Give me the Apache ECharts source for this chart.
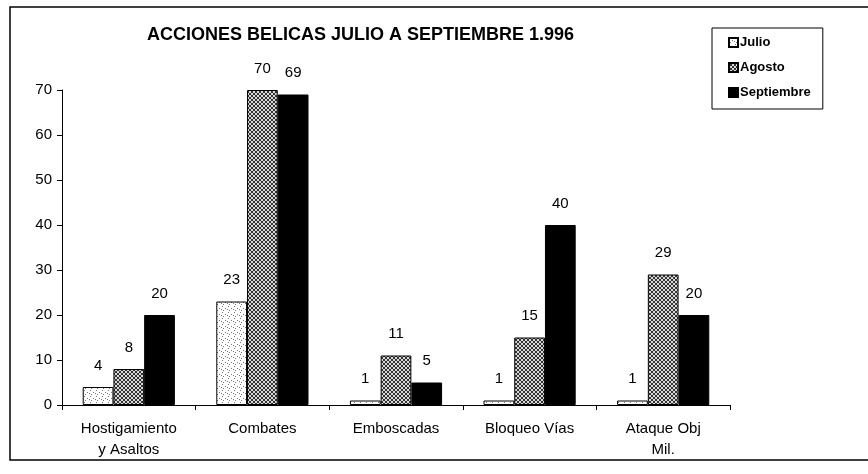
<!DOCTYPE html>
<html><head><meta charset="utf-8">
<script src="https://cdn.jsdelivr.net/npm/echarts@6/dist/echarts.min.js"></script>
<style>html,body{margin:0;padding:0;background:#fff}#c{width:868px;height:474px}</style>
</head><body><div id="c"></div>
<script>
const categories = ['Hostigamiento\ny Asaltos', 'Combates', 'Emboscadas', 'Bloqueo Vías', 'Ataque Obj\nMil.'];
const seriesNames = ['Julio', 'Agosto', 'Septiembre'];
const julio = [4, 23, 1, 1, 1];
const agosto = [8, 70, 11, 15, 29];
const septiembre = [20, 69, 5, 40, 20];
const yTicks = [0, 10, 20, 30, 40, 50, 60, 70];

function dotPattern() {
  const c = document.createElement('canvas'); c.width = 6; c.height = 6;
  const x = c.getContext('2d');
  x.fillStyle = '#fff'; x.fillRect(0, 0, 6, 6);
  x.fillStyle = '#777';
  x.fillRect(0, 0, 1, 1); x.fillRect(3, 2, 1, 1); x.fillRect(1, 4, 1, 1); x.fillRect(5, 3, 1, 1);
  return c;
}
function hatchPattern() {
  const c = document.createElement('canvas'); c.width = 4; c.height = 4;
  const x = c.getContext('2d');
  x.fillStyle = '#d8d8d8'; x.fillRect(0, 0, 4, 4);
  x.fillStyle = '#333';
  for (let i = 0; i < 4; i++) { x.fillRect(i, i, 1, 1); x.fillRect(i, 3 - i, 1, 1); }
  return c;
}
const fills = [
  { image: dotPattern(), repeat: 'repeat' },
  { image: hatchPattern(), repeat: 'repeat' },
  '#000'
];
const dataSets = [julio, agosto, septiembre];
const FONT = 'Arial, Liberation Sans';

const chart = echarts.init(document.getElementById('c'));
chart.setOption({
  backgroundColor: '#fff',
  animation: false,
  title: {
    text: 'ACCIONES BELICAS JULIO A SEPTIEMBRE 1.996',
    left: 142, top: 21,
    textStyle: { fontFamily: FONT, fontWeight: 'bold', fontSize: 18, color: '#000' }
  },
  legend: {
    orient: 'vertical',
    left: 712, top: 28,
    padding: [8, 12, 10, 16],
    itemGap: 12,
    itemWidth: 9, itemHeight: 9,
    borderColor: '#000', borderWidth: 1,
    icon: 'rect',
    textStyle: { fontFamily: FONT, fontWeight: 'bold', fontSize: 13, color: '#000', padding: [0, 0, 0, -3] },
    data: seriesNames
  },
  graphic: [
    { type: 'polyline', shape: { points: [[868, 7], [10, 7], [10, 460], [868, 460]] }, style: { stroke: '#000', fill: null, lineWidth: 1.5 } }
  ],
  grid: { left: 62, right: 138, top: 90, bottom: 69 },
  xAxis: {
    type: 'category',
    data: categories,
    axisLine: { lineStyle: { color: '#000', width: 1 } },
    axisTick: { show: true, length: 5, lineStyle: { color: '#000' } },
    axisLabel: { fontFamily: FONT, fontSize: 15, color: '#000', margin: 13, lineHeight: 21 }
  },
  yAxis: {
    type: 'value',
    min: yTicks[0], max: yTicks[yTicks.length - 1], interval: 10,
    splitLine: { show: false },
    axisLine: { show: true, lineStyle: { color: '#000' } },
    axisTick: { show: true, length: 5, lineStyle: { color: '#000' } },
    axisLabel: { fontFamily: FONT, fontSize: 15, color: '#000', margin: 10 }
  },
  series: seriesNames.map((n, i) => ({
    name: n,
    type: 'bar',
    data: dataSets[i],
    barGap: '0%',
    barCategoryGap: '31%',
    itemStyle: { color: fills[i], borderColor: '#000', borderWidth: 1 },
    label: { show: true, position: 'top', distance: 14, fontFamily: FONT, fontSize: 15, color: '#000' }
  }))
});
</script></body></html>
